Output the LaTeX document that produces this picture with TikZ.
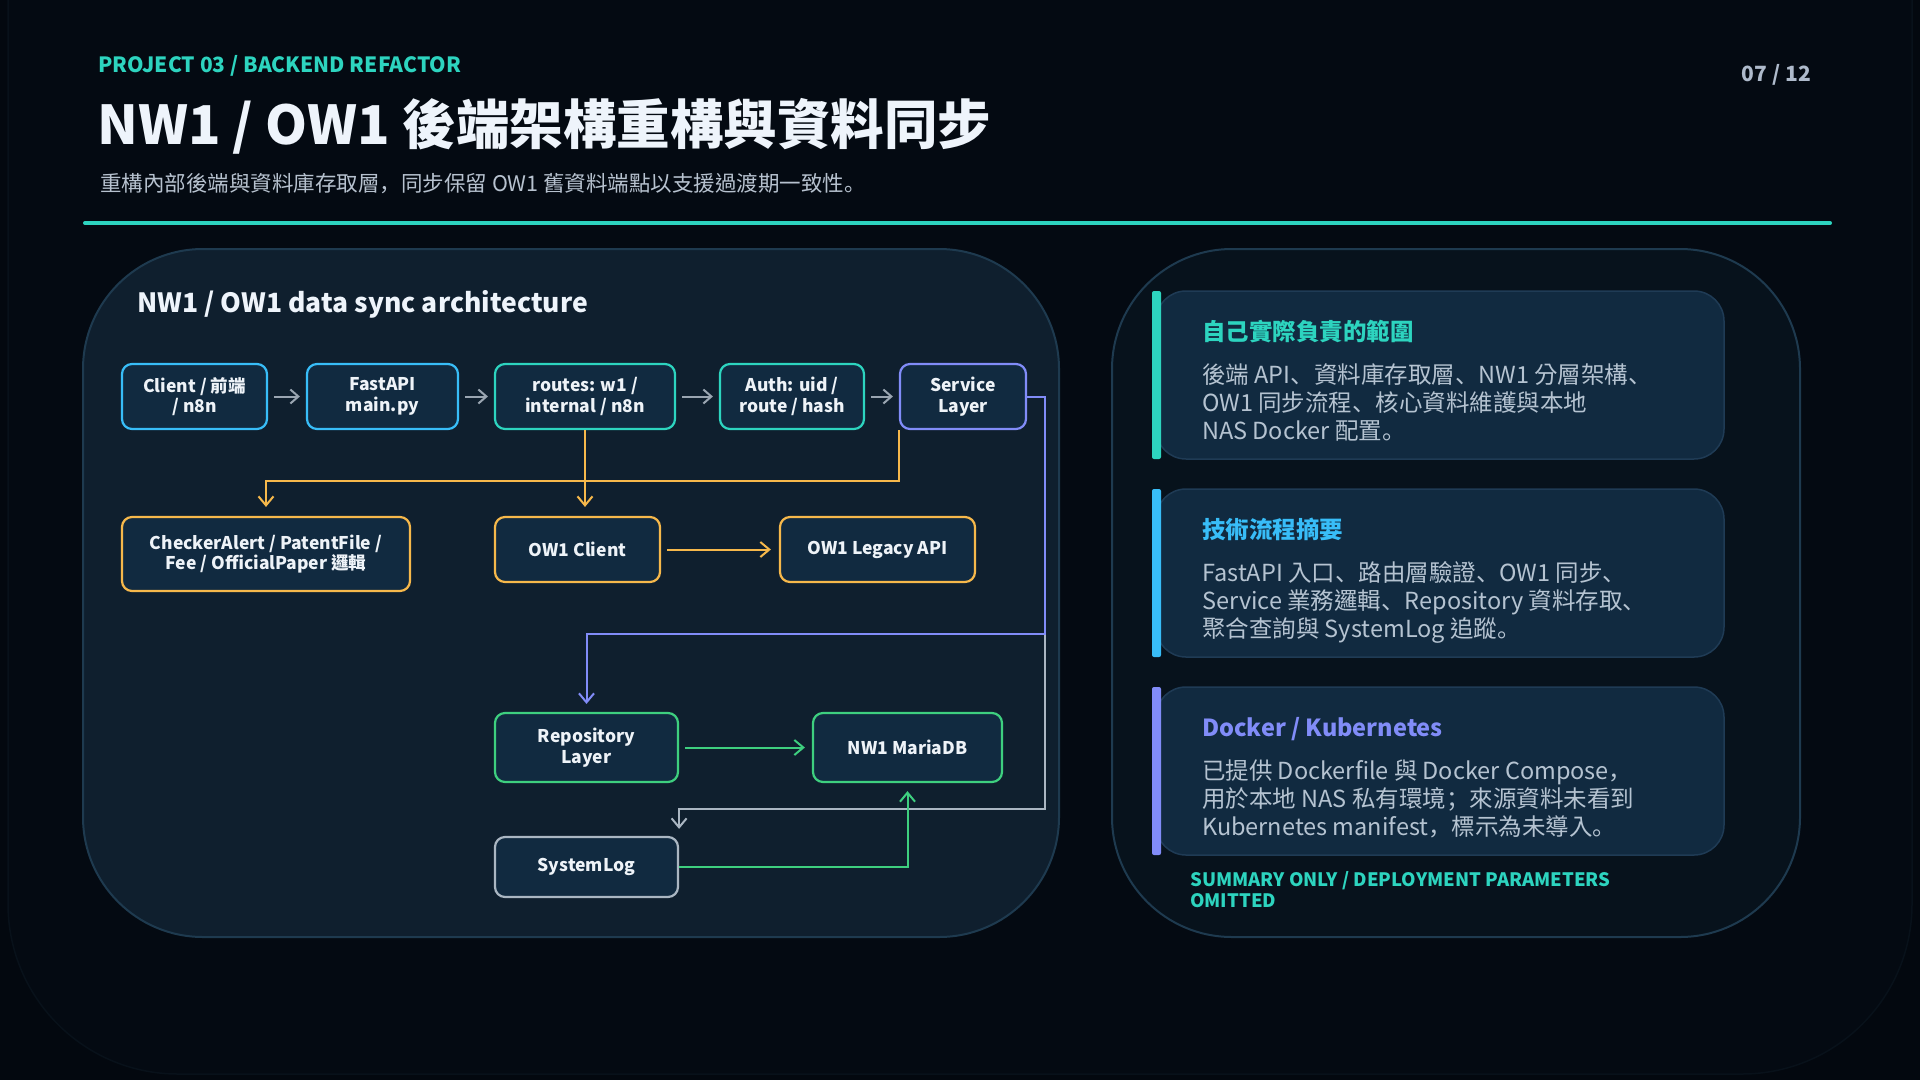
\documentclass[tikz,border=0pt]{standalone}
\usepackage{fontspec}
\setmainfont{Noto Sans CJK TC}
\newfontfamily\scpunct{Noto Sans CJK SC}
\newcommand\pcomma{{\scpunct ，}}
\newcommand\pdun{{\scpunct 、}}
\newcommand\pstop{{\scpunct 。}}
\newcommand\psemi{{\scpunct ；}}
\usetikzlibrary{arrows.meta,calc}
\definecolor{bg}{HTML}{03080F}
\definecolor{bgcard}{HTML}{040A12}
\definecolor{bgcardline}{HTML}{08111A}
\definecolor{panelL}{HTML}{0F1F2E}
\definecolor{panelR}{HTML}{07121C}
\definecolor{panelline}{HTML}{1E3A4F}
\definecolor{nodefill}{HTML}{112A40}
\definecolor{cardline}{HTML}{1F3B55}
\definecolor{nodetext}{HTML}{EEF3F8}
\definecolor{titletext}{HTML}{EEF4FB}
\definecolor{subtext}{HTML}{B7C2CF}
\definecolor{bodytext}{HTML}{B5C3D1}
\definecolor{pagetext}{HTML}{AEBACB}
\definecolor{cteal}{HTML}{2DD4BF}
\definecolor{csky}{HTML}{38BDF8}
\definecolor{cindigo}{HTML}{818CF8}
\definecolor{camber}{HTML}{F6B84B}
\definecolor{cgreen}{HTML}{3ECF7F}
\definecolor{cgray}{HTML}{9AA5B1}
\definecolor{clgray}{HTML}{AAB6C2}
\begin{document}
\begin{tikzpicture}[x=1pt,y=-1pt,
  box/.style={draw, line width=2.2pt, rounded corners=10pt, fill=nodefill, text=nodetext,
    font=\bfseries\fontsize{17.5}{20.5}\selectfont, align=center, inner sep=0pt},
  conn/.style={line width=2pt, -{Straight Barb[length=9pt,width=15pt]}},
  flowarrow/.style={line width=2pt, draw=cgray, shorten <=6pt, shorten >=6pt, -{Straight Barb[length=8pt,width=14pt]}},
  txt/.style={anchor=base west, inner sep=0pt},
  bodyline/.style={txt, text=bodytext, font=\fontsize{23.5}{28}\selectfont},
  cardhead/.style={txt, font=\bfseries\fontsize{23.5}{28}\selectfont},
  card/.style={draw=cardline, line width=1.5pt, fill=nodefill, rounded corners=30pt},
  panel/.style={draw=panelline, line width=2pt, rounded corners=120pt},
]
\useasboundingbox (0,0) rectangle (1920,1080);
\fill[bg] (0,0) rectangle (1920,1080);
\draw[bgcardline, fill=bgcard, line width=1.5pt, rounded corners=170pt] (8,-220) rectangle (1912,1074);

% header
\node[txt, text=cteal, font=\bfseries\fontsize{21}{25}\selectfont] (kicker) at (98,72.5) {PROJECT 03 / BACKEND REFACTOR};
\node[txt, text=titletext, font=\bfseries\fontsize{53.5}{60}\selectfont] (title) at (97,144) {NW1 / OW1 後端架構重構與資料同步};
\node[txt, text=subtext, font=\fontsize{21.5}{26}\selectfont] (subtitle) at (100,191) {重構內部後端與資料庫存取層\pcomma 同步保留 OW1 舊資料端點以支援過渡期一致性\pstop};
\node[anchor=base east, inner sep=0pt, text=pagetext, font=\bfseries\fontsize{21}{25}\selectfont] (page) at (1811,81) {07 / 12};
\draw[cteal, line width=4pt, line cap=round] (85,223) -- (1830,223);

% panels
\draw[panel, fill=panelL] (83,249) rectangle (1059,937);
\draw[panel, fill=panelR] (1112,249) rectangle (1800,937);

\node[txt, text=titletext, font=\bfseries\fontsize{26.5}{30}\selectfont] (ptitle) at (137,312) {NW1 / OW1 data sync architecture};

% row 1
\node[box, draw=csky, minimum width=145pt, minimum height=65pt] (client) at (194.5,396.5) {Client / 前端\\/ n8n};
\node[box, draw=csky, minimum width=151pt, minimum height=65pt] (fastapi) at (382.5,396.5) {FastAPI\\main.py};
\node[box, draw=cteal, minimum width=180pt, minimum height=65pt] (routes) at (585,396.5) {routes: w1 /\\internal / n8n};
\node[box, draw=cteal, minimum width=144pt, minimum height=65pt] (auth) at (792,396.5) {Auth: uid /\\route / hash};
\node[box, draw=cindigo, minimum width=126pt, minimum height=65pt] (svc) at (963,396.5) {Service\\Layer};

% row 2
\node[box, draw=camber, minimum width=288pt, minimum height=74pt] (checker) at (266,554) {CheckerAlert / PatentFile /\\Fee / OfficialPaper 邏輯};
\node[box, draw=camber, minimum width=165pt, minimum height=65pt] (ow1c) at (577.5,549.5) {OW1 Client};
\node[box, draw=camber, minimum width=195pt, minimum height=65pt] (legacy) at (877.5,549.5) {OW1 Legacy API};

% row 3
\node[box, draw=cgreen, minimum width=183pt, minimum height=69pt] (repo) at (586.5,747.5) {Repository\\Layer};
\node[box, draw=cgreen, minimum width=189pt, minimum height=69pt] (maria) at (907.5,747.5) {NW1 MariaDB};
\node[box, draw=clgray, minimum width=183pt, minimum height=60pt] (syslog) at (586.5,867) {SystemLog};

% connectors
\draw[flowarrow] (client.east) -- (fastapi.west);
\draw[flowarrow] (fastapi.east) -- (routes.west);
\draw[flowarrow] (routes.east) -- (auth.west);
\draw[flowarrow] (auth.east) -- (svc.west);

\draw[conn, camber, shorten >=9pt] (routes.south) -- (routes.south |- ow1c.north);
\draw[conn, camber, shorten >=9pt] (svc.south west) -- ++(0,51) -| (checker.north);
\draw[conn, camber, shorten <=6pt, shorten >=8pt] (ow1c.east) -- (legacy.west);

\coordinate (gstart) at ($(svc.south east)+(18,0)$);
\draw[conn, clgray, shorten >=7pt] (gstart) |- ($(syslog.north east)+(0,-27)$) -- (syslog.north east);
\draw[conn, cindigo, shorten >=8pt] (svc.east) -- ++(18,0) -- ++(0,237) -| (repo.north);

\draw[conn, cgreen, shorten <=6pt, shorten >=7pt] (repo.east) -- (maria.west);
\draw[conn, cgreen, shorten >=8pt] (syslog.east) -| (maria.south);

% cards
\draw[card] (1156,291) rectangle (1724,459);
\fill[cteal, rounded corners=2pt] (1152,291) rectangle (1161,459);
\node[cardhead, text=cteal] (c1h) at (1202,340) {自己實際負責的範圍};
\node[bodyline] (c1a) at (1202,383) {後端 API\pdun 資料庫存取層\pdun NW1 分層架構\pdun};
\node[bodyline] (c1b) at (1202,411) {OW1 同步流程\pdun 核心資料維護與本地};
\node[bodyline] (c1c) at (1202,439) {NAS Docker 配置\pstop};

\draw[card] (1156,489) rectangle (1724,657);
\fill[csky, rounded corners=2pt] (1152,489) rectangle (1161,657);
\node[cardhead, text=csky] (c2h) at (1202,538) {技術流程摘要};
\node[bodyline] (c2a) at (1202,581) {FastAPI 入口\pdun 路由層驗證\pdun OW1 同步\pdun};
\node[bodyline] (c2b) at (1202,609) {Service 業務邏輯\pdun Repository 資料存取\pdun};
\node[bodyline] (c2c) at (1202,637) {聚合查詢與 SystemLog 追蹤\pstop};

\draw[card] (1156,687) rectangle (1724,855);
\fill[cindigo, rounded corners=2pt] (1152,687) rectangle (1161,855);
\node[cardhead, text=cindigo] (c3h) at (1202,736) {Docker / Kubernetes};
\node[bodyline] (c3a) at (1202,779) {已提供 Dockerfile 與 Docker Compose\pcomma};
\node[bodyline] (c3b) at (1202,807) {用於本地 NAS 私有環境\psemi 來源資料未看到};
\node[bodyline] (c3c) at (1202,835) {Kubernetes manifest\pcomma 標示為未導入\pstop};

\node[txt, text=cteal, font=\bfseries\fontsize{18.5}{21}\selectfont] (foot1) at (1190,886) {SUMMARY ONLY / DEPLOYMENT PARAMETERS};
\node[txt, text=cteal, font=\bfseries\fontsize{18.5}{21}\selectfont] (foot2) at (1190,907) {OMITTED};
\end{tikzpicture}
\end{document}
